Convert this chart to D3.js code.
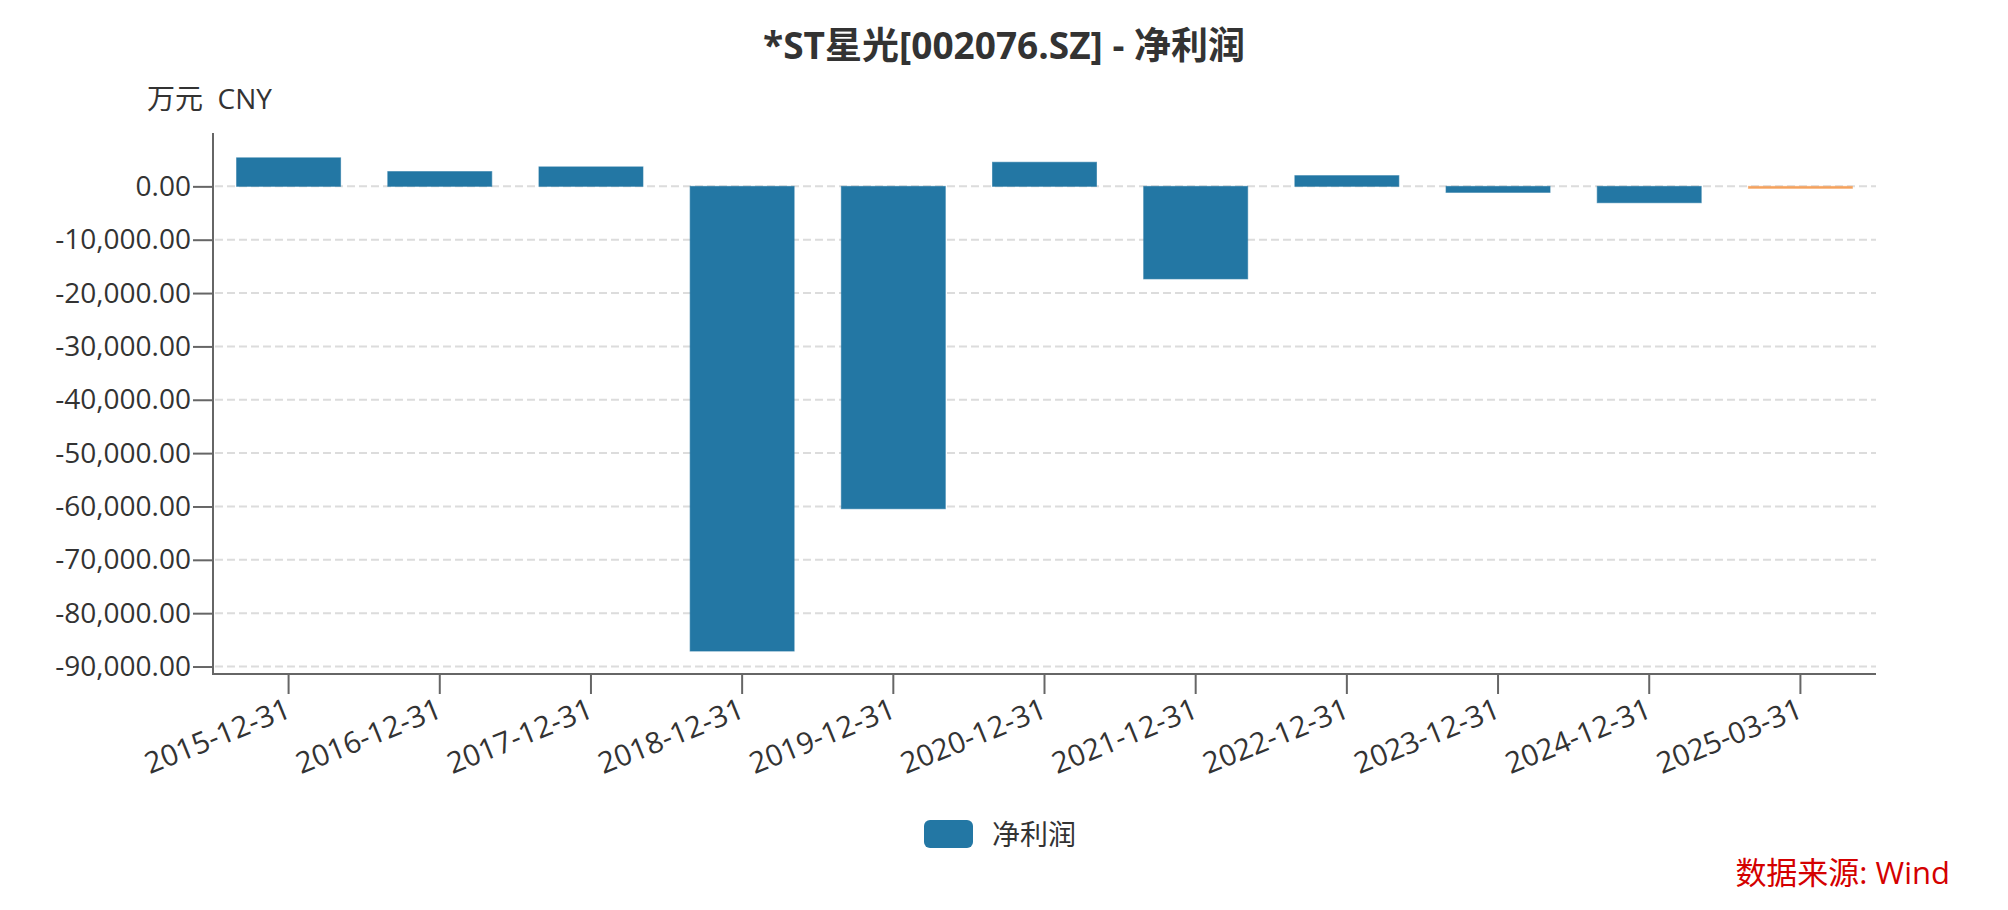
<!DOCTYPE html>
<html>
<head>
<meta charset="utf-8">
<script src="https://cdn.jsdelivr.net/npm/d3@7/dist/d3.min.js"></script>
<style>
  html, body { margin: 0; padding: 0; background: #fff; }
  svg { display: block; }
  text { font-family: "Open Sans", "Noto Sans CJK SC", sans-serif; white-space: pre; }
</style>
</head>
<body>
<svg id="chart" width="2008" height="910"></svg>
<script>
const titleText = "*ST星光[002076.SZ] - 净利润";
const unitLabel = "万元  CNY";
const seriesName = "净利润";
const sourceText = "数据来源: Wind";
const categories = ["2015-12-31","2016-12-31","2017-12-31","2018-12-31","2019-12-31","2020-12-31","2021-12-31","2022-12-31","2023-12-31","2024-12-31","2025-03-31"];
const values = [5350, 2770, 3650, -87100, -60430, 4520, -17350, 2010, -1130, -3070, -200];
const barColors = ["#2377a4","#2377a4","#2377a4","#2377a4","#2377a4","#2377a4","#2377a4","#2377a4","#2377a4","#2377a4","#f5a25d"];
const yTicks = [0, -10000, -20000, -30000, -40000, -50000, -60000, -70000, -80000, -90000];
const yDomain = [-91400, 10000];

(function () {
const svg = d3.select("#chart");
const mLeft = 213, mRight = 1876, mTop = 133, mBottom = 674;

const x = d3.scaleBand().domain(categories).range([mLeft, mRight]).paddingInner(0.312).paddingOuter(0.156);
const y = d3.scaleLinear().domain(yDomain).range([mBottom, mTop]);
const fmt = d3.formatLocale({decimal: ".", thousands: ",", grouping: [3], currency: ["", ""], minus: "-"}).format(",.2f");

// title
svg.append("text").attr("x", 1004).attr("y", 44).attr("text-anchor", "middle")
  .attr("dominant-baseline", "central").attr("font-size", 37).attr("font-weight", "bold")
  .attr("fill", "#333").text(titleText);

// unit label
svg.append("text").attr("x", 147).attr("y", 98).attr("dominant-baseline", "central")
  .attr("font-size", 28).attr("fill", "#333").text(unitLabel);

// grid
svg.append("g").selectAll("line").data(yTicks).join("line")
  .attr("x1", mLeft + 2).attr("x2", mRight)
  .attr("y1", d => y(d)).attr("y2", d => y(d))
  .attr("stroke", "#dcdcdc").attr("stroke-width", 2).attr("stroke-dasharray", "8,4");

// bars
svg.append("g").selectAll("rect").data(values).join("rect")
  .attr("x", (d, i) => x(categories[i]))
  .attr("width", x.bandwidth())
  .attr("y", d => y(Math.max(0, d)))
  .attr("height", d => Math.max(2, Math.abs(y(d) - y(0))))
  .attr("fill", (d, i) => barColors[i])
  .attr("stroke", (d, i) => barColors[i]).attr("stroke-opacity", 0.6).attr("stroke-width", 1);

// y axis
const yAxis = d3.axisLeft(y).tickValues(yTicks).tickFormat(fmt).tickSize(20).tickPadding(2);
const gy = svg.append("g").attr("transform", `translate(${mLeft},0)`).call(yAxis);
gy.select(".domain").attr("stroke", "#666").attr("stroke-width", 2).attr("d", `M0,${mTop}V${mBottom}`);
gy.selectAll(".tick line").attr("stroke", "#666").attr("stroke-width", 2);
gy.selectAll(".tick text").attr("font-size", 28).attr("fill", "#333")
  .attr("font-family", "'Open Sans', 'Noto Sans CJK SC', sans-serif");

// x axis
const xAxis = d3.axisBottom(x).tickSize(20).tickSizeOuter(0);
const gx = svg.append("g").attr("transform", `translate(0,${mBottom})`).call(xAxis);
gx.select(".domain").attr("stroke", "#666").attr("stroke-width", 2).attr("d", `M${mLeft - 1},0H${mRight}`);
gx.selectAll(".tick line").attr("stroke", "#666").attr("stroke-width", 2);
gx.selectAll(".tick text")
  .attr("font-size", 29.5).attr("fill", "#333")
  .attr("font-family", "'Open Sans', 'Noto Sans CJK SC', sans-serif")
  .attr("text-anchor", "end")
  .attr("y", 0).attr("dy", "0.72em")
  .attr("transform", "translate(-4,23) rotate(-22)");

// legend
svg.append("rect").attr("x", 924).attr("y", 820).attr("width", 49).attr("height", 28)
  .attr("rx", 6).attr("fill", "#2377a4");
svg.append("text").attr("x", 992).attr("y", 834).attr("dominant-baseline", "central")
  .attr("font-size", 28).attr("fill", "#333").text(seriesName);

// source
svg.append("text").attr("x", 1950).attr("y", 872).attr("text-anchor", "end")
  .attr("dominant-baseline", "central").attr("font-size", 31).attr("fill", "#d40000").text(sourceText);
})();
</script>
</body>
</html>
